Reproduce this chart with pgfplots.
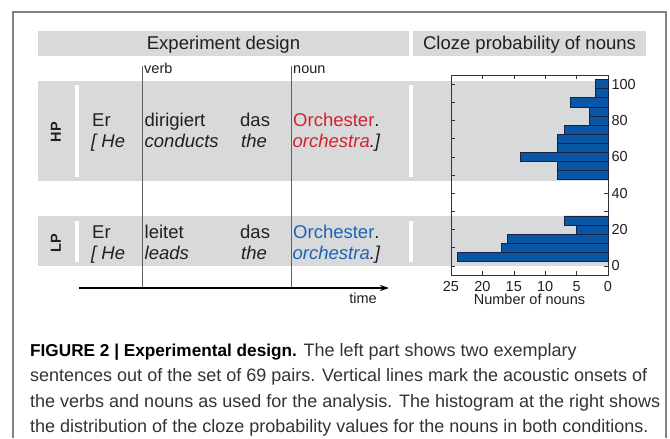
\documentclass[border=0pt]{standalone}
\usepackage{fontspec}
\setmainfont{Liberation Sans}
\usepackage{pgfplots}
\pgfplotsset{compat=1.18}
\usetikzlibrary{arrows.meta}
\definecolor{band}{RGB}{215,217,218}
\definecolor{txt}{RGB}{35,31,32}
\definecolor{hpred}{RGB}{213,35,45}
\definecolor{lpblue}{RGB}{30,100,182}
\definecolor{barblue}{RGB}{10,86,166}
\definecolor{baredge}{RGB}{25,35,65}
\definecolor{framegray}{RGB}{130,130,130}
\definecolor{vline}{RGB}{95,95,95}
\newcommand\bigf{\fontsize{18.5}{22}\selectfont}
\newcommand\smallf{\fontsize{14.5}{17}\selectfont}
\begin{document}
\begin{tikzpicture}
% ---------- background (y pointing down, 1pt = 1px) ----------
\begin{scope}[x=1pt,y=-1pt]
\path[use as bounding box] (0,0) rectangle (670,438);
\fill[band] (38,31) rectangle (409,56);
\fill[band] (413,31) rectangle (646,56);
\fill[band] (38,81) rectangle (608,181);
\fill[band] (38,216) rectangle (608,266);
\fill[white] (75,85) rectangle (79,177);
\fill[white] (75,221) rectangle (79,262);
\fill[white] (409,85) rectangle (413,177);
\fill[white] (409,221) rectangle (413,262);
\end{scope}
% ---------- histogram ----------
\begin{axis}[
  at={(451pt,-275pt)}, anchor=south west,
  scale only axis, width=157pt, height=200pt,
  xmin=0, xmax=25, x dir=reverse,
  ymin=-5, ymax=105,
  xbar, bar width=5, bar shift=0pt,
  xtick={0,5,...,25},
  ytick={0,10,...,100},
  yticklabels={0,,20,,40,,60,,80,,100},
  yticklabel pos=right,
  tick align=inside,
  major tick length=4pt,
  axis line style={black!80, line width=0.7pt},
  tick style={black!80, line width=0.6pt},
  /pgf/number format/assume math mode=true,
  ticklabel style={font=\smallf, text=txt},
  xticklabel style={anchor=base, yshift=-16.5pt},
  xlabel={Number of nouns},
  xlabel style={at={(axis description cs:0.5,0)}, anchor=base, yshift=-29.5pt, font=\smallf, text=txt},
  clip=false,
]
\addplot[fill=barblue, draw=baredge, line width=0.6pt] coordinates {
  (8,50) (8,55) (14,60) (8,65) (8,70) (7,75) (3,80) (3,85) (6,90) (2,95) (2,100)
};
\addplot[fill=barblue, draw=baredge, line width=0.6pt] coordinates {
  (24,5) (17,10) (16,15) (5,20) (7,25)
};
\end{axis}
% ---------- diagram ----------
\begin{scope}[x=1pt,y=-1pt, every node/.style={inner sep=0pt, text=txt}]
% frame
\draw[framegray, line width=1.4pt] (13,438) -- (13,12) -- (666,12) -- (666,438);
% headers
\node[anchor=base, font=\bigf] at (223.5,50) {Experiment design};
\node[anchor=base, font=\bigf] at (529.5,50) {Cloze probability of nouns};
% onset lines
\draw[vline, line width=1pt] (142,66) -- (142,288);
\draw[vline, line width=1pt] (291,66) -- (291,288);
\node[anchor=base west, font=\smallf] at (144,74) {verb};
\node[anchor=base west, font=\smallf] at (293,74) {noun};
% time arrow
\draw[black, line width=1.2pt, -{Stealth[length=9pt,width=6pt]}] (79,288) -- (389,288);
\node[anchor=base, font=\smallf] at (363,303) {time};
% condition labels
\node[rotate=90, font=\smallf\bfseries] at (56,132) {HP};
\node[rotate=90, font=\smallf\bfseries] at (56,243) {LP};
% HP sentence
\node[anchor=base west, font=\bigf] at (92,126) {Er};
\node[anchor=base west, font=\bigf] at (144.5,126) {dirigiert};
\node[anchor=base west, font=\bigf] at (240,126) {das};
\node[anchor=base west, font=\bigf] at (293,126) {\textcolor{hpred}{Orchester}.};
\node[anchor=base west, font=\bigf\itshape] at (91,147) {[ He};
\node[anchor=base west, font=\bigf\itshape] at (144.5,147) {conducts};
\node[anchor=base west, font=\bigf\itshape] at (241,147) {the};
\node[anchor=base west, font=\bigf\itshape] at (292.5,147) {\textcolor{hpred}{orchestra}.]};
% LP sentence
\node[anchor=base west, font=\bigf] at (92,238) {Er};
\node[anchor=base west, font=\bigf] at (144.5,238) {leitet};
\node[anchor=base west, font=\bigf] at (240,238) {das};
\node[anchor=base west, font=\bigf] at (293,238) {\textcolor{lpblue}{Orchester}.};
\node[anchor=base west, font=\bigf\itshape] at (91,259) {[ He};
\node[anchor=base west, font=\bigf\itshape] at (144.5,259) {leads};
\node[anchor=base west, font=\bigf\itshape] at (241,259) {the};
\node[anchor=base west, font=\bigf\itshape] at (292.5,259) {\textcolor{lpblue}{orchestra}.]};
% caption
\begin{scope}[every node/.style={inner sep=0pt, anchor=base west, font=\fontsize{18}{21}\selectfont, text=black!80}]
\node at (30,356) {{\fontsize{17.2}{21}\selectfont\bfseries\textcolor{black}{FIGURE 2 | Experimental design.}} The left part shows two exemplary};
\node at (30,381.5) {sentences out of the set of 69 pairs. Vertical lines mark the acoustic onsets of};
\node at (30,407) {the verbs and nouns as used for the analysis. The histogram at the right shows};
\node at (30,432.5) {the distribution of the cloze probability values for the nouns in both conditions.};
\end{scope}
\end{scope}
\end{tikzpicture}
\end{document}
